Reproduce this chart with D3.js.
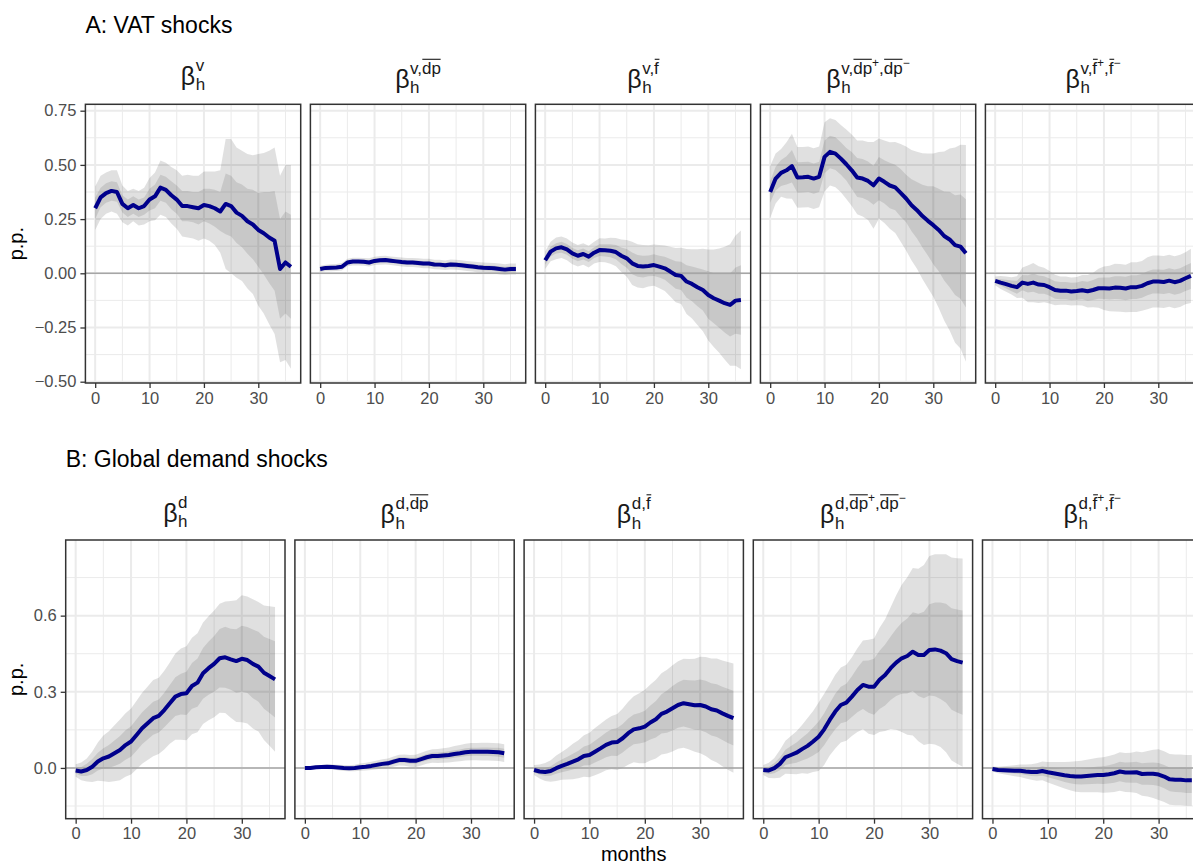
<!DOCTYPE html>
<html><head><meta charset="utf-8">
<script src="https://cdn.jsdelivr.net/npm/d3@7"></script>
<style>body{margin:0;background:#fff;overflow:hidden;} svg{display:block;}</style>
</head><body>
<svg id="chart" width="1193" height="864"></svg>
<script>
// ---------------- DATA ----------------
const months = d3.range(0, 37);
const xTicks = [0, 10, 20, 30];
const xMinor = [5, 15, 25, 35];

// Row A: VAT shocks
const vatTicks = [-0.5, -0.25, 0, 0.25, 0.5, 0.75];
const vatMinor = [-0.375, -0.125, 0.125, 0.375, 0.625];
// A1  beta^v
const vatEst = [0.30,0.35,0.37,0.38,0.375,0.32,0.30,0.315,0.30,0.31,0.34,0.355,0.395,0.385,0.36,0.34,0.31,0.31,0.305,0.30,0.315,0.31,0.30,0.285,0.32,0.31,0.28,0.265,0.24,0.225,0.20,0.185,0.165,0.15,0.02,0.05,0.03];
const vatIn  = [0.05,0.045,0.045,0.045,0.045,0.04,0.04,0.04,0.04,0.04,0.05,0.055,0.06,0.06,0.065,0.065,0.07,0.07,0.07,0.075,0.075,0.08,0.085,0.09,0.14,0.14,0.14,0.145,0.15,0.16,0.17,0.19,0.21,0.23,0.23,0.235,0.24];
const vatOut = [0.10,0.10,0.095,0.095,0.10,0.085,0.08,0.075,0.08,0.085,0.10,0.11,0.125,0.125,0.13,0.135,0.14,0.145,0.145,0.15,0.155,0.16,0.17,0.19,0.30,0.31,0.30,0.30,0.31,0.32,0.35,0.37,0.40,0.43,0.43,0.45,0.47];
// A2  beta^{v,dp}
const vatDpEst = [0.02,0.025,0.026,0.027,0.03,0.05,0.054,0.054,0.053,0.05,0.057,0.06,0.061,0.058,0.055,0.052,0.05,0.05,0.048,0.045,0.045,0.041,0.04,0.037,0.041,0.039,0.037,0.034,0.031,0.028,0.026,0.025,0.023,0.02,0.017,0.02,0.02];
const vatDpIn  = [0.008,0.008,0.008,0.008,0.009,0.009,0.009,0.009,0.009,0.01,0.01,0.01,0.01,0.01,0.01,0.011,0.011,0.011,0.011,0.011,0.011,0.011,0.011,0.011,0.012,0.012,0.012,0.012,0.012,0.012,0.012,0.012,0.012,0.013,0.013,0.013,0.013];
const vatDpOut = [0.015,0.015,0.016,0.016,0.017,0.017,0.018,0.018,0.018,0.019,0.019,0.02,0.02,0.02,0.02,0.021,0.021,0.021,0.021,0.022,0.022,0.022,0.022,0.022,0.023,0.023,0.023,0.023,0.023,0.024,0.024,0.024,0.024,0.025,0.025,0.025,0.025];
// A3  beta^{v,f}
const vatFEst = [0.06,0.10,0.115,0.12,0.11,0.092,0.081,0.089,0.077,0.095,0.107,0.106,0.104,0.098,0.081,0.069,0.046,0.034,0.031,0.034,0.038,0.031,0.023,0.008,-0.008,-0.012,-0.038,-0.049,-0.064,-0.077,-0.10,-0.115,-0.126,-0.138,-0.146,-0.126,-0.123];
const vatFIn  = [0.02,0.022,0.024,0.025,0.025,0.025,0.025,0.025,0.025,0.025,0.027,0.028,0.03,0.033,0.038,0.043,0.05,0.05,0.05,0.048,0.05,0.05,0.053,0.058,0.063,0.065,0.075,0.08,0.088,0.095,0.11,0.115,0.125,0.135,0.145,0.153,0.16];
const vatFOut = [0.04,0.045,0.05,0.05,0.05,0.05,0.05,0.05,0.05,0.05,0.055,0.055,0.06,0.065,0.075,0.085,0.10,0.10,0.10,0.095,0.095,0.10,0.105,0.115,0.125,0.13,0.15,0.16,0.175,0.19,0.21,0.225,0.24,0.26,0.28,0.30,0.32];
// A4  beta^{v,dp+,dp-}
const vatDpPmEst = [0.375,0.437,0.463,0.475,0.494,0.442,0.443,0.445,0.437,0.445,0.537,0.56,0.552,0.529,0.503,0.475,0.442,0.437,0.426,0.406,0.437,0.422,0.405,0.396,0.371,0.345,0.314,0.291,0.264,0.242,0.222,0.20,0.172,0.156,0.13,0.123,0.092];
const vatDpPmIn  = [0.05,0.055,0.06,0.065,0.075,0.07,0.07,0.07,0.07,0.07,0.075,0.075,0.075,0.075,0.075,0.085,0.09,0.09,0.09,0.09,0.10,0.10,0.105,0.105,0.11,0.11,0.12,0.13,0.145,0.16,0.18,0.19,0.205,0.22,0.23,0.24,0.25];
const vatDpPmOut = [0.12,0.115,0.11,0.13,0.15,0.14,0.14,0.14,0.14,0.14,0.16,0.155,0.155,0.155,0.16,0.165,0.17,0.175,0.18,0.20,0.185,0.19,0.20,0.21,0.225,0.24,0.255,0.27,0.29,0.31,0.33,0.36,0.39,0.42,0.45,0.47,0.50];
// A5  beta^{v,f+,f-}
const vatFPmEst = [-0.035,-0.043,-0.05,-0.058,-0.064,-0.043,-0.049,-0.043,-0.052,-0.054,-0.064,-0.077,-0.08,-0.08,-0.084,-0.082,-0.078,-0.083,-0.077,-0.069,-0.069,-0.07,-0.066,-0.067,-0.07,-0.064,-0.064,-0.058,-0.046,-0.038,-0.038,-0.04,-0.034,-0.041,-0.035,-0.023,-0.012];
const vatFPmIn  = [0.01,0.015,0.02,0.025,0.03,0.035,0.04,0.042,0.042,0.04,0.04,0.04,0.04,0.04,0.04,0.04,0.042,0.044,0.046,0.048,0.05,0.051,0.052,0.053,0.054,0.055,0.055,0.055,0.055,0.055,0.055,0.056,0.057,0.058,0.058,0.059,0.06];
const vatFPmOut = [0.02,0.03,0.035,0.04,0.05,0.07,0.085,0.09,0.085,0.08,0.075,0.07,0.065,0.065,0.065,0.065,0.07,0.075,0.08,0.09,0.10,0.105,0.11,0.11,0.11,0.115,0.115,0.115,0.12,0.12,0.12,0.12,0.12,0.12,0.12,0.12,0.125];

// Row B: Global demand shocks
const demTicks = [0, 0.3, 0.6];
const demMinor = [-0.15, 0.15, 0.45, 0.75];
// B1 beta^d
const demEst = [-0.01,-0.014,-0.008,0.005,0.025,0.038,0.045,0.058,0.071,0.09,0.104,0.13,0.156,0.176,0.196,0.205,0.228,0.255,0.281,0.291,0.294,0.323,0.336,0.373,0.393,0.41,0.432,0.436,0.428,0.421,0.43,0.425,0.41,0.399,0.375,0.362,0.349];
const demIn  = [0.012,0.018,0.024,0.03,0.035,0.04,0.045,0.05,0.055,0.058,0.06,0.062,0.063,0.064,0.065,0.065,0.068,0.072,0.076,0.08,0.085,0.09,0.095,0.10,0.105,0.11,0.115,0.12,0.12,0.125,0.13,0.13,0.135,0.138,0.142,0.146,0.15];
const demOut = [0.025,0.035,0.045,0.06,0.075,0.09,0.10,0.11,0.12,0.125,0.13,0.135,0.14,0.145,0.15,0.15,0.155,0.16,0.17,0.18,0.185,0.19,0.195,0.20,0.205,0.21,0.215,0.22,0.23,0.24,0.25,0.25,0.255,0.255,0.265,0.275,0.285];
// B2 beta^{d,dp}
const demDpEst = [0,0,0.003,0.004,0.005,0.004,0.002,0,-0.001,0,0.003,0.005,0.008,0.012,0.016,0.018,0.025,0.031,0.031,0.028,0.028,0.035,0.042,0.047,0.047,0.049,0.051,0.055,0.058,0.062,0.064,0.064,0.064,0.064,0.063,0.062,0.058];
const demDpIn  = [0.003,0.003,0.004,0.004,0.005,0.005,0.005,0.006,0.006,0.007,0.007,0.008,0.008,0.009,0.009,0.01,0.01,0.011,0.011,0.012,0.012,0.012,0.013,0.013,0.014,0.014,0.015,0.015,0.015,0.016,0.016,0.016,0.017,0.017,0.017,0.018,0.018];
const demDpOut = [0.005,0.006,0.007,0.008,0.009,0.01,0.011,0.012,0.012,0.013,0.014,0.015,0.016,0.017,0.018,0.019,0.02,0.021,0.022,0.023,0.024,0.025,0.026,0.027,0.028,0.029,0.03,0.031,0.032,0.033,0.034,0.034,0.035,0.035,0.035,0.035,0.035];
// B3 beta^{d,f}
const demFEst = [-0.008,-0.014,-0.016,-0.012,-0.001,0.008,0.016,0.025,0.034,0.047,0.051,0.064,0.077,0.091,0.10,0.102,0.117,0.137,0.152,0.156,0.163,0.179,0.192,0.213,0.222,0.235,0.248,0.255,0.251,0.247,0.248,0.242,0.231,0.226,0.215,0.205,0.196];
const demFIn  = [0.01,0.013,0.016,0.019,0.022,0.025,0.028,0.031,0.034,0.037,0.04,0.043,0.046,0.049,0.052,0.055,0.056,0.058,0.059,0.06,0.062,0.067,0.072,0.077,0.083,0.088,0.09,0.092,0.094,0.097,0.10,0.101,0.103,0.104,0.105,0.107,0.108];
const demFOut = [0.02,0.028,0.035,0.042,0.05,0.055,0.062,0.07,0.075,0.082,0.088,0.093,0.097,0.10,0.105,0.11,0.117,0.124,0.13,0.138,0.145,0.15,0.155,0.16,0.165,0.17,0.172,0.175,0.178,0.183,0.19,0.195,0.20,0.205,0.208,0.212,0.215];
// B4 beta^{d,dp+,dp-}
const demDpPmEst = [-0.008,-0.01,-0.001,0.016,0.042,0.051,0.06,0.074,0.087,0.104,0.123,0.152,0.189,0.222,0.248,0.257,0.281,0.307,0.327,0.32,0.32,0.347,0.366,0.393,0.415,0.432,0.441,0.458,0.445,0.445,0.465,0.467,0.462,0.452,0.429,0.421,0.415];
const demDpPmIn  = [0.01,0.015,0.02,0.025,0.03,0.035,0.04,0.045,0.05,0.055,0.06,0.063,0.066,0.07,0.072,0.075,0.08,0.088,0.095,0.103,0.11,0.115,0.12,0.125,0.132,0.14,0.148,0.155,0.162,0.17,0.18,0.185,0.19,0.195,0.20,0.203,0.205];
const demDpPmOut = [0.02,0.03,0.04,0.055,0.065,0.075,0.085,0.095,0.11,0.12,0.135,0.14,0.14,0.145,0.148,0.15,0.155,0.165,0.175,0.185,0.19,0.205,0.22,0.24,0.265,0.29,0.31,0.33,0.34,0.355,0.37,0.375,0.38,0.39,0.40,0.405,0.41];
// B5 beta^{d,f+,f-}
const demFPmEst = [-0.004,-0.008,-0.009,-0.01,-0.011,-0.011,-0.014,-0.016,-0.016,-0.012,-0.017,-0.021,-0.025,-0.029,-0.032,-0.034,-0.034,-0.032,-0.03,-0.028,-0.028,-0.025,-0.021,-0.014,-0.018,-0.018,-0.017,-0.024,-0.023,-0.023,-0.026,-0.034,-0.045,-0.047,-0.047,-0.049,-0.049];
const demFPmIn  = [0.005,0.007,0.008,0.01,0.011,0.013,0.014,0.016,0.017,0.019,0.02,0.022,0.024,0.026,0.028,0.03,0.031,0.032,0.033,0.034,0.035,0.036,0.037,0.038,0.039,0.04,0.041,0.042,0.043,0.044,0.045,0.046,0.047,0.048,0.049,0.05,0.05];
const demFPmOut = [0.01,0.013,0.016,0.019,0.022,0.025,0.028,0.031,0.034,0.037,0.04,0.044,0.048,0.052,0.056,0.06,0.062,0.064,0.066,0.068,0.07,0.072,0.074,0.076,0.077,0.078,0.082,0.086,0.09,0.095,0.10,0.10,0.10,0.10,0.10,0.10,0.10];

// ---------------- LAYOUT ----------------
const FONT = "'Liberation Sans', Arial, Helvetica, sans-serif";
const rows = [
  { title: "A: VAT shocks", shock: "v", left0: 85.4, step: 225, width: 215.3, top: 104.3, bottom: 383,
    yDomain: [-0.506, 0.7795], ticks: vatTicks, minor: vatMinor, fmt: d3.format(".2f"), stripCY: 76, titleY: 32.5,
    panels: [
      { type: "base", est: vatEst, lo68: vatIn, hw95: vatOut },
      { type: "dp", est: vatDpEst, lo68: vatDpIn, hw95: vatDpOut },
      { type: "f", est: vatFEst, lo68: vatFIn, hw95: vatFOut },
      { type: "dppm", est: vatDpPmEst, lo68: vatDpPmIn, hw95: vatDpPmOut },
      { type: "fpm", est: vatFPmEst, lo68: vatFPmIn, hw95: vatFPmOut } ] },
  { title: "B: Global demand shocks", shock: "d", left0: 65.7, step: 229.2, width: 219.3, top: 540, bottom: 818.7,
    yDomain: [-0.2, 0.898], ticks: demTicks, minor: demMinor, fmt: d3.format(".1f"), stripCY: 511.5, titleY: 467,
    panels: [
      { type: "base", est: demEst, lo68: demIn, hw95: demOut },
      { type: "dp", est: demDpEst, lo68: demDpIn, hw95: demDpOut },
      { type: "f", est: demFEst, lo68: demFIn, hw95: demFOut },
      { type: "dppm", est: demDpPmEst, lo68: demDpPmIn, hw95: demDpPmOut },
      { type: "fpm", est: demFPmEst, lo68: demFPmIn, hw95: demFPmOut } ] }
];

const svg = d3.select("#chart");
svg.append("rect").attr("width", 1193).attr("height", 864).attr("fill", "#fff");

function stripLabel(g, cx, cy, shock, type) {
  const B = 25, S = 17, SS = 12, supY = -14, subY = 5.5, ssY = -21;
  const lab = g.append("g").attr("font-family", FONT).attr("fill", "#1A1A1A");
  let x = 0;
  const beta = lab.append("text").attr("x", 0).attr("y", 0).attr("font-size", B).text("β");
  const bw = beta.node().getComputedTextLength();
  const x0 = bw + 0.5;
  const hT = lab.append("text").attr("x", x0).attr("y", subY).attr("font-size", S).text("h");
  const subEnd = x0 + hT.node().getComputedTextLength();
  x = x0;
  let hasBar = false;
  function piece(txt, size, y, bar) {
    const t = lab.append("text").attr("x", x).attr("y", y).attr("font-size", size).text(txt);
    const w = t.node().getComputedTextLength();
    if (bar) {
      hasBar = true;
      const by = y - 0.73 * size - 2;
      const x1 = bar === "f" ? x + 0.6 : x + 0.3;
      const x2 = bar === "f" ? x + w + 0.6 : x + w - 0.3;
      lab.append("line").attr("x1", x1).attr("x2", x2).attr("y1", by).attr("y2", by)
        .attr("stroke", "#1A1A1A").attr("stroke-width", 1.1);
    }
    x += w;
  }
  if (type === "base") piece(shock, S, supY);
  if (type === "dp") { piece(shock + ",", S, supY); piece("dp", S, supY, "dp"); }
  if (type === "f") { piece(shock + ",", S, supY); piece("f", S, supY, "f"); }
  if (type === "dppm") {
    piece(shock + ",", S, supY); piece("dp", S, supY, "dp"); piece("+", SS, ssY);
    piece(",", S, supY); piece("dp", S, supY, "dp"); piece("\u2212", SS, ssY);
  }
  if (type === "fpm") {
    piece(shock + ",", S, supY); piece("f", S, supY, "f"); piece("+", SS, ssY);
    piece(",", S, supY); piece("f", S, supY, "f"); piece("\u2212", SS, ssY);
  }
  const total = Math.max(x, subEnd);
  let top;
  if (hasBar) top = supY - 0.73 * S - 2.5;
  else top = supY - (shock === "d" ? 0.73 : 0.52) * S;
  const bottom = subY;
  const ty = cy - (top + bottom) / 2;
  lab.attr("transform", `translate(${cx - total / 2},${ty})`);
}

rows.forEach((row, ri) => {
  svg.append("text").attr("x", row.left0).attr("y", row.titleY).attr("font-family", FONT)
    .attr("font-size", 23).attr("fill", "#000").text(row.title);
  const y = d3.scaleLinear().domain(row.yDomain).range([row.bottom, row.top]);
  svg.append("text").attr("transform", `translate(22.5,${(row.top + row.bottom) / 2}) rotate(-90)`)
    .attr("text-anchor", "middle").attr("font-family", FONT).attr("font-size", 20).attr("fill", "#000").text("p.p.");

  row.panels.forEach((p, pi) => {
    const left = row.left0 + row.step * pi;
    const x = d3.scaleLinear().domain([-1.8, 37.8]).range([left, left + row.width]);
    const g = svg.append("g");
    g.append("rect").attr("x", left).attr("y", row.top).attr("width", row.width)
      .attr("height", row.bottom - row.top).attr("fill", "#fff");
    g.selectAll(null).data(xMinor).join("line").attr("x1", d => x(d)).attr("x2", d => x(d))
      .attr("y1", row.top).attr("y2", row.bottom).attr("stroke", "#EBEBEB").attr("stroke-width", 1);
    g.selectAll(null).data(row.minor).join("line").attr("y1", d => y(d)).attr("y2", d => y(d))
      .attr("x1", left).attr("x2", left + row.width).attr("stroke", "#EBEBEB").attr("stroke-width", 1);
    g.selectAll(null).data(xTicks).join("line").attr("x1", d => x(d)).attr("x2", d => x(d))
      .attr("y1", row.top).attr("y2", row.bottom).attr("stroke", "#EBEBEB").attr("stroke-width", 2);
    g.selectAll(null).data(row.ticks).join("line").attr("y1", d => y(d)).attr("y2", d => y(d))
      .attr("x1", left).attr("x2", left + row.width).attr("stroke", "#EBEBEB").attr("stroke-width", 2);

    const data = months.map((m, i) => ({ m, e: p.est[i], a: p.lo68[i], b: p.hw95[i] }));
    const outer = d3.area().x(d => x(d.m)).y0(d => y(d.e - d.b)).y1(d => y(d.e + d.b));
    const inner = d3.area().x(d => x(d.m)).y0(d => y(d.e - d.a)).y1(d => y(d.e + d.a));
    g.append("path").attr("d", outer(data)).attr("fill", "#000").attr("fill-opacity", 0.12);
    g.append("path").attr("d", inner(data)).attr("fill", "#000").attr("fill-opacity", 0.107);
    g.append("line").attr("x1", left).attr("x2", left + row.width).attr("y1", y(0)).attr("y2", y(0))
      .attr("stroke", "#A6A6A6").attr("stroke-width", 1.6);
    g.append("path").attr("d", d3.line().x(d => x(d.m)).y(d => y(d.e))(data))
      .attr("fill", "none").attr("stroke", "#00008B").attr("stroke-width", 4)
      .attr("stroke-linejoin", "round").attr("stroke-linecap", "butt");
    g.append("rect").attr("x", left).attr("y", row.top).attr("width", row.width)
      .attr("height", row.bottom - row.top).attr("fill", "none").attr("stroke", "#333333").attr("stroke-width", 1.5);

    const xa = g.append("g").attr("transform", `translate(0,${row.bottom})`)
      .call(d3.axisBottom(x).tickValues(xTicks).tickSize(5).tickPadding(4).tickFormat(d3.format("d")));
    xa.select(".domain").remove();
    xa.selectAll(".tick line").attr("stroke", "#333333").attr("stroke-width", 1.3);
    xa.selectAll(".tick text").attr("fill", "#4D4D4D").attr("font-size", 16.5).attr("font-family", FONT);
    if (pi === 0) {
      const ya = g.append("g").attr("transform", `translate(${left},0)`)
        .call(d3.axisLeft(y).tickValues(row.ticks).tickSize(5).tickPadding(4).tickFormat(row.fmt));
      ya.select(".domain").remove();
      ya.selectAll(".tick line").attr("stroke", "#333333").attr("stroke-width", 1.3);
      ya.selectAll(".tick text").attr("fill", "#4D4D4D").attr("font-size", 16.5).attr("font-family", FONT);
    }
    stripLabel(svg, left + row.width / 2, row.stripCY, row.shock, p.type);
  });
});

svg.append("text").attr("x", 633.7).attr("y", 861).attr("text-anchor", "middle")
  .attr("font-family", FONT).attr("font-size", 20).attr("fill", "#000").text("months");
</script>
</body></html>
